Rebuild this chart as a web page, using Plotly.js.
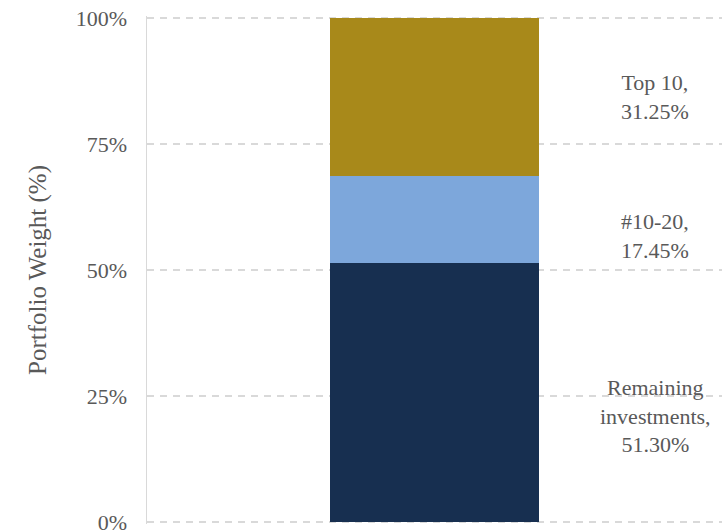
<!DOCTYPE html>
<html><head><meta charset="utf-8">
<script src="https://cdn.plot.ly/plotly-3.0.1.min.js"></script>
<style>html,body{margin:0;padding:0;background:#fff}#chart{width:722px;height:530px}</style>
</head><body><div id="chart"></div>
<script>
const category = ["Portfolio"];
const seriesNames = ["Remaining investments", "#10-20", "Top 10"];
const seriesValues = [51.30, 17.45, 31.25];
const seriesColors = ["#172F50", "#7DA7DB", "#A8891A"];
const labelLines = [["Remaining", "investments,"], ["#10-20,"], ["Top 10,"]];
const labelShift = [-23, -17, 0];
const yTickVals = [0, 25, 50, 75, 100];
const yTickText = ["0%", "25%", "50%", "75%", "100%"];

const font = "Liberation Serif";
const traces = seriesNames.map((n, i) => ({
  type: "bar", name: n, x: category, y: [seriesValues[i]],
  marker: {color: seriesColors[i], line: {width: 0}}, width: 0.3635, hoverinfo: "none"
}));
let cum = 0;
const annotations = seriesValues.map((v, i) => {
  const mid = cum + v / 2; cum += v;
  return {
    xref: "paper", yref: "y", x: 0.8835, y: mid, yshift: labelShift[i],
    text: labelLines[i].join("<br>") + "<br>" + v.toFixed(2) + "%",
    showarrow: false, align: "center", xanchor: "center", yanchor: "middle",
    font: {family: font, size: 22, color: "#595959"}
  };
});
const layout = {
  width: 722, height: 530, barmode: "stack", showlegend: false,
  margin: {l: 147, r: 0, t: 16, b: 6, pad: 0},
  paper_bgcolor: "#fff", plot_bgcolor: "#fff",
  font: {family: font, color: "#595959", size: 22},
  xaxis: {range: [-0.5, 0.5], showticklabels: false, showgrid: false, zeroline: false, showline: false, fixedrange: true},
  yaxis: {
    range: [-0.4, 100.4], tickvals: yTickVals, ticktext: yTickText,
    showgrid: true, gridcolor: "#d9d9d9", griddash: "7px,6px", gridwidth: 1.5,
    zeroline: false, showline: true, linecolor: "#d9d9d9", linewidth: 1.5,
    ticks: "", ticklabelstandoff: 14, ticklabeloverflow: "allow",
    tickfont: {family: font, size: 22, color: "#595959"},
    title: {text: "Portfolio Weight (%)", standoff: 22, font: {family: font, size: 25, color: "#595959"}}
  },
  annotations: annotations
};
Plotly.newPlot("chart", traces, layout, {displayModeBar: false, staticPlot: true});
</script></body></html>
